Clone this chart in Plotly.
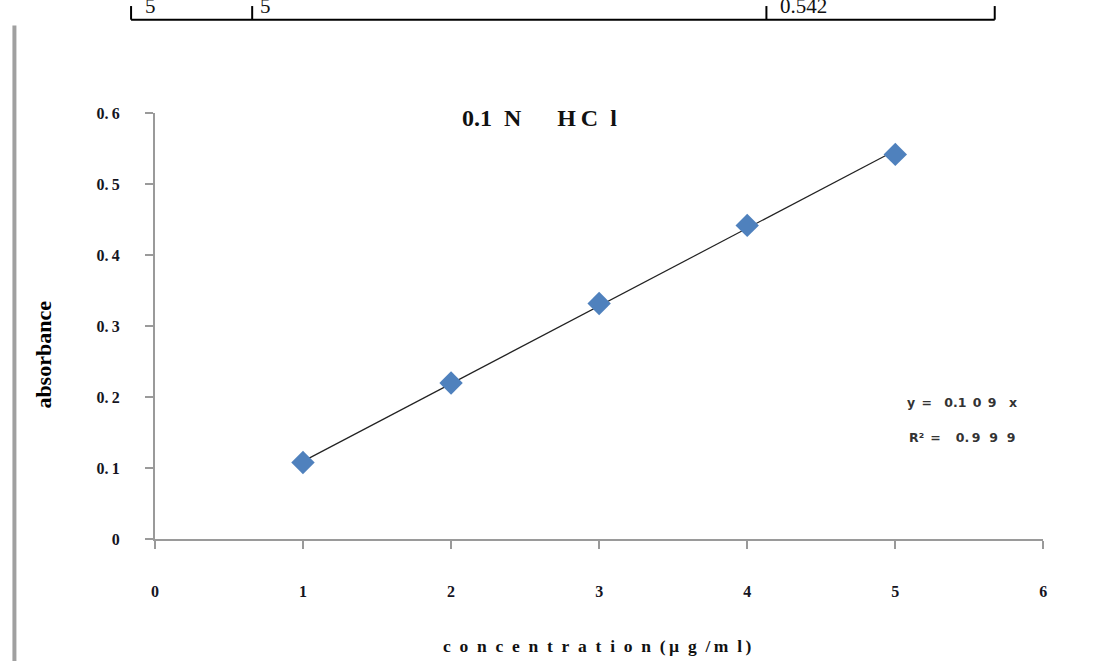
import numpy as np
import plotly.graph_objects as go

# ---- data ----
concentration = [1, 2, 3, 4, 5]
absorbance = [0.108, 0.220, 0.332, 0.442, 0.542]
x_ticks = [0, 1, 2, 3, 4, 5, 6]
y_ticks = [0, 0.1, 0.2, 0.3, 0.4, 0.5, 0.6]
y_tick_text = ["0", "0.\u20091", "0.\u20092", "0.\u20093", "0.\u20094", "0.\u20095", "0.\u20096"]
title_text = "0.1\u2002N\u00a0\u00a0\u00a0\u00a0\u00a0\u00a0H\u2009C\u2002l"
x_title = ("c\u2002o\u2002n\u2002c\u2002e\u2002n\u2002t\u2002r\u2002a\u2002t\u2002i\u2002o\u2002n"
           "\u2002(\u2009µ\u2002g\u2002/\u2009m\u2002l\u2009)")
y_title = "absorbance"
eq_text = "y\u2002=\u20030.1\u20020\u20029\u2003x"
r2_text = "R²\u2002=\u2003\u20090.\u20099\u2002\u20099\u2002\u20099"
table_cells = ["5", "5", "0.542"]

W, H = 1099, 666
def px(x):
    return x / W
def py(y):
    return 1 - y / H

# trendline through origin (least squares fit of the data)
xa = np.array(concentration, dtype=float)
ya = np.array(absorbance, dtype=float)
slope = float((xa * ya).sum() / (xa * xa).sum())
trend_x = [min(concentration), max(concentration)]
trend_y = [slope * v for v in trend_x]

fig = go.Figure()
fig.add_trace(go.Scatter(x=trend_x, y=trend_y, mode="lines",
                         line=dict(color="#222222", width=1.2),
                         hoverinfo="skip", showlegend=False))
fig.add_trace(go.Scatter(x=concentration, y=absorbance, mode="markers",
                         marker=dict(symbol="diamond", size=18, color="#4F81BD",
                                     line=dict(width=0)),
                         showlegend=False))

serif = "Liberation Serif, Times New Roman, serif"
tickfont = dict(family=serif, size=16, color="#15151f", weight="bold")
axis_col = "#9a9a9a"

fig.update_layout(
    width=W, height=H, autosize=False,
    margin=dict(l=0, r=0, t=0, b=0),
    paper_bgcolor="white", plot_bgcolor="white",
    xaxis=dict(domain=[px(152), px(1047)], range=[0, 6],
               tickmode="array", tickvals=x_ticks,
               ticktext=[str(v) for v in x_ticks],
               showgrid=False, zeroline=False,
               showline=True, linecolor=axis_col, linewidth=2,
               ticks="outside", ticklen=8, tickwidth=2, tickcolor=axis_col,
               tickfont=tickfont, ticklabelstandoff=29),
    yaxis=dict(domain=[py(545), py(108)], range=[0, 0.6],
               tickmode="array", tickvals=y_ticks, ticktext=y_tick_text,
               showgrid=False, zeroline=False,
               showline=True, linecolor=axis_col, linewidth=2,
               ticks="outside", ticklen=8, tickwidth=2, tickcolor=axis_col,
               tickfont=tickfont, ticklabelstandoff=22),
)

ann = []
ann.append(dict(text=title_text, x=px(539), y=py(113), xref="paper", yref="paper",
                showarrow=False, xanchor="center", yanchor="middle",
                font=dict(family=serif, size=24, color="#111", weight="bold")))
ann.append(dict(text=x_title, x=px(598), y=py(655), xref="paper", yref="paper",
                showarrow=False, xanchor="center", yanchor="middle",
                font=dict(family=serif, size=17.5, color="#111", weight="bold")))
ann.append(dict(text=y_title, x=px(40), y=py(356), xref="paper", yref="paper",
                showarrow=False, xanchor="center", yanchor="middle", textangle=-90,
                font=dict(family=serif, size=22, color="#000", weight="bold")))
sans = "DejaVu Sans, Verdana, sans-serif"
ann.append(dict(text=eq_text, x=px(908), y=py(405), xref="paper", yref="paper",
                showarrow=False, xanchor="left", yanchor="middle",
                font=dict(family=sans, size=12.5, color="#333", weight="bold")))
ann.append(dict(text=r2_text, x=px(910), y=py(441), xref="paper", yref="paper",
                showarrow=False, xanchor="left", yanchor="middle",
                font=dict(family=sans, size=12.5, color="#333", weight="bold")))
# table row above the chart, cut off at the top edge as in the page scan
for txt, xx in zip(table_cells, [140, 256, 780]):
    ann.append(dict(text=txt, x=px(xx), y=py(12), xref="paper", yref="paper",
                    showarrow=False, xanchor="left", yanchor="bottom",
                    font=dict(family=serif, size=21, color="#111")))
fig.update_layout(annotations=ann)

shapes = []
line_k = dict(color="black", width=2)
shapes.append(dict(type="line", xref="paper", yref="paper",
                   x0=px(128), x1=px(998), y0=py(12), y1=py(12), line=line_k))
for xx in [128, 250, 768, 998]:
    shapes.append(dict(type="line", xref="paper", yref="paper",
                       x0=px(xx), x1=px(xx), y0=py(-2), y1=py(12), line=line_k))
shapes.append(dict(type="line", xref="paper", yref="paper",
                   x0=px(10.5), x1=px(10.5), y0=py(18), y1=py(670),
                   line=dict(color="#a0a0a0", width=4)))
fig.update_layout(shapes=shapes)

fig.write_html("out.html",
               post_script="document.body.style.margin='0';")
